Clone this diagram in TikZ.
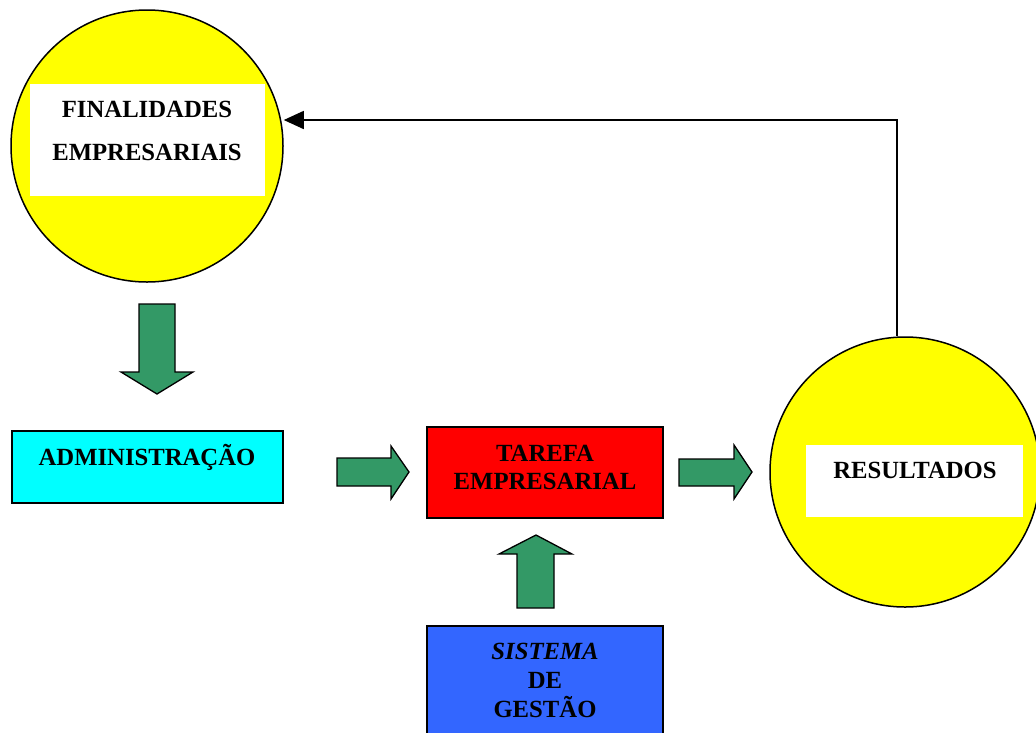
\documentclass[tikz,border=0pt]{standalone}
\usepackage{fontspec}
\setmainfont{Liberation Serif}
\usetikzlibrary{arrows.meta}
\definecolor{cyellow}{HTML}{FFFF00}
\definecolor{ccyan}{HTML}{00FFFF}
\definecolor{cred}{HTML}{FF0000}
\definecolor{cblue}{HTML}{3366FF}
\definecolor{cgreen}{HTML}{339966}
\tikzset{
  disc/.style={circle, draw=black, line width=1.5pt, fill=cyellow, minimum size=272pt, inner sep=0pt},
  whitebox/.style={rectangle, fill=white, draw=none, inner sep=0pt},
  colbox/.style={rectangle, draw=black, line width=1.3pt, inner sep=0pt},
  lbl/.style={font=\fontsize{24.7}{#1}\selectfont\bfseries, align=center, inner sep=0pt, anchor=base},
  lbl/.default=28,
  blockarrow/.style={draw=black, line width=1.3pt, fill=cgreen, line join=miter},
  feedback/.style={draw=black, line width=1.5pt, -{Triangle[length=20pt,width=18pt]}}
}
\begin{document}
\begin{tikzpicture}[x=1pt,y=-1pt]
\useasboundingbox (0,0) rectangle (1036,732);
\clip (0,0) rectangle (1036,732);
% circles
\node[disc] (fin) at (147,146) {};
\node[whitebox, minimum width=235pt, minimum height=112pt] (finbox) at (147.5,140) {};
\node[lbl=43] (fintxt) at (147,160) {FINALIDADES\\EMPRESARIAIS};
\node[disc, minimum size=270pt] (res) at (905,472) {};
\node[whitebox, minimum width=217pt, minimum height=72pt] (resbox) at (914.5,481) {};
\node[lbl] (restxt) at (915,478) {RESULTADOS};
% boxes
\node[colbox, fill=ccyan, minimum width=271pt, minimum height=72pt] (adm) at (147.5,467) {};
\node[lbl] (admtxt) at (147,465) {ADMINISTRAÇÃO};
\node[colbox, fill=cred, minimum width=236pt, minimum height=91pt] (tar) at (545,472.5) {};
\node[lbl=28] (tartxt) at (545,489) {TAREFA\\EMPRESARIAL};
\node[colbox, fill=cblue, minimum width=236pt, minimum height=140pt] (sis) at (545,696) {};
\node[lbl=29] (sistxt) at (545,717) {\textit{SISTEMA}\\DE\\GESTÃO};
% block arrows
\draw[blockarrow] (139,304) -- (175,304) -- (175,372) -- (193,372) -- (157,394) -- (121,372) -- (139,372) -- cycle;
\draw[blockarrow] (337,458) -- (391,458) -- (391,446) -- (409,472) -- (391,499) -- (391,486) -- (337,486) -- cycle;
\draw[blockarrow] (679,459) -- (734,459) -- (734,445) -- (752,472) -- (734,499) -- (734,486) -- (679,486) -- cycle;
\draw[blockarrow] (517,608) -- (517,554) -- (499,554) -- (536,535) -- (572,554) -- (554,554) -- (554,608) -- cycle;
% feedback connector
\coordinate (corner) at (897,120);
\draw[feedback] (res.north -| corner) -- (corner) -- (fin.east |- corner);
\end{tikzpicture}
\end{document}
